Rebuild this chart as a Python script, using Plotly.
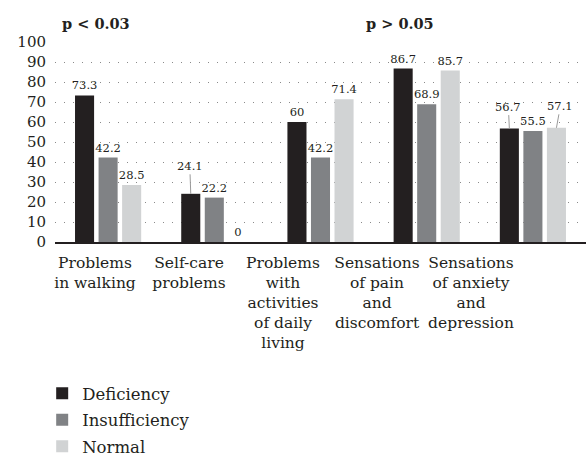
import plotly.graph_objects as go

# ---------------- data ----------------
categories = [
    "Problems<br>in walking",
    "Self-care<br>problems",
    "Problems<br>with<br>activities<br>of daily<br>living",
    "Sensations<br>of pain<br>and<br>discomfort",
    "Sensations<br>of anxiety<br>and<br>depression",
]
series_names = ["Deficiency", "Insufficiency", "Normal"]
deficiency = [73.3, 24.1, 60, 86.7, 56.7]
insufficiency = [42.2, 22.2, 42.2, 68.9, 55.5]
normal = [28.5, 0, 71.4, 85.7, 57.1]
y_ticks = list(range(0, 101, 10))
p_labels = ["p &lt; 0.03", "p &gt; 0.05"]

# labels drawn with a leader line: (series index, category index) -> (ax, ay) style offsets
leader_labels = {(0, 1): (-1, -28), (0, 4): (-1, -22), (2, 4): (4, -22)}

# ---------------- style ----------------
colors = ["#231f20", "#808285", "#d1d3d4"]
FONT = "DejaVu Serif, serif"
TXT = "#231f20"
bargap = 0.335
bargroupgap = 0.19
W, H = 586, 463
ML, MR, MT, MB = 40, 0, 42, 221
pw = W - ML - MR
LBL = 11.5

series = [deficiency, insufficiency, normal]
xs = list(range(len(categories)))
slot = (1 - bargap) / len(series)

fig = go.Figure()
annotations = []
for si, (name, vals) in enumerate(zip(series_names, series)):
    texts = []
    for ci, v in enumerate(vals):
        if (si, ci) in leader_labels:
            texts.append("")
            ax, ay = leader_labels[(si, ci)]
            annotations.append(dict(
                x=ci + (si - 1) * slot, y=v, xref="x", yref="y",
                text=f"{v:g}", showarrow=True, arrowhead=0, arrowwidth=1,
                arrowcolor="#9a9a9a", ax=ax, ay=ay, standoff=0,
                font=dict(family=FONT, size=LBL, color=TXT),
            ))
        else:
            texts.append(f"{v:g}")
    fig.add_trace(go.Bar(
        x=xs, y=vals, name=name, marker=dict(color=colors[si], line=dict(width=0)),
        text=texts, textposition="outside", cliponaxis=False, constraintext="none",
        textfont=dict(family=FONT, size=LBL, color=TXT),
        legendgroup=name, hoverinfo="skip",
    ))

# invisible trace carrying the category label axis
fig.add_trace(go.Scatter(x=[xs[0], xs[-1]], y=[0, 0], xaxis="x2", yaxis="y2",
                         mode="markers", marker=dict(opacity=0), showlegend=False,
                         hoverinfo="skip"))

for lbl, cx in zip(p_labels, [96, 400]):
    annotations.append(dict(x=(cx - ML) / pw, y=1.095, xref="paper", yref="paper",
                            xanchor="center", yanchor="middle",
                            text=f"<b>{lbl}</b>", showarrow=False,
                            font=dict(family=FONT, size=14.5, color=TXT)))

fig.update_layout(
    width=W, height=H,
    margin=dict(l=ML, r=MR, t=MT, b=MB, pad=0, autoexpand=False),
    paper_bgcolor="white", plot_bgcolor="rgba(0,0,0,0)",
    barmode="group", bargap=bargap, bargroupgap=bargroupgap,
    font=dict(family=FONT, color=TXT),
    showlegend=True,
    legend=dict(x=0.004, y=-0.67, xanchor="left", yanchor="top",
                orientation="v", traceorder="grouped", tracegroupgap=2,
                font=dict(family=FONT, size=16.5, color=TXT),
                bgcolor="rgba(0,0,0,0)"),
    xaxis=dict(domain=[15 / pw, 1], range=[-0.5, len(categories) - 0.5],
               showticklabels=False, showline=True, linecolor=TXT, linewidth=1.5,
               showgrid=False, zeroline=False, ticks=""),
    yaxis=dict(range=[0, 100], tickvals=y_ticks, showgrid=True,
               gridcolor="#8a8a8a", griddash="1px,8px", gridwidth=1,
               zeroline=False, showline=False, ticks="",
               tickfont=dict(family=FONT, size=15, color=TXT),
               ticklabelstandoff=8),
    xaxis2=dict(domain=[8 / pw, 478 / pw], anchor="y2",
                range=[-0.5, len(categories) - 0.5],
                tickvals=xs, ticktext=categories, showgrid=False, showline=False,
                zeroline=False, ticks="",
                tickfont=dict(family=FONT, size=15.5, color=TXT),
                ticklabelstandoff=9),
    yaxis2=dict(domain=[0, 1], anchor="x2", range=[0, 100], visible=False),
    annotations=annotations,
)

fig.write_html("out.html", post_script="document.body.style.margin='0';",
               config={"displayModeBar": False})
